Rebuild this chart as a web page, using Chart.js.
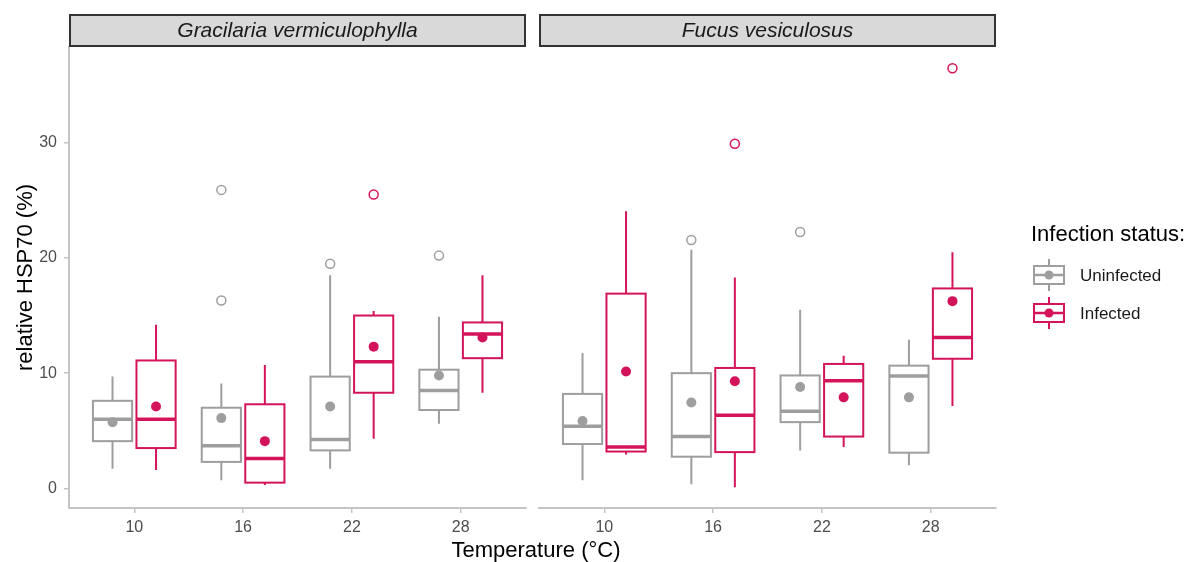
<!DOCTYPE html>
<html>
<head>
<meta charset="utf-8">
<title>HSP70</title>
<script src="https://cdn.jsdelivr.net/npm/chart.js@4.4.1/dist/chart.umd.min.js"></script>
<style>
    body { margin: 0; background: #fff; }
    #wrap { position: relative; width: 1192px; height: 562px; font-family: 'Liberation Sans', Arial, sans-serif; }
    canvas { position: absolute; top: 0; }
    #x-title { position: absolute; left: 0; width: 1072px; top: 537px; line-height: 26px; text-align: center; font-size: 22px; color: #000; }
</style>
</head>
<body>
<div id="wrap">
    <canvas id="panel-gra" width="532" height="562" style="left:0"></canvas>
    <canvas id="panel-fuc" width="659" height="562" style="left:533px"></canvas>
    <div id="x-title">Temperature (°C)</div>
</div>
<script>
const temps = ['10', '16', '22', '28']
const yTicks = [0, 10, 20, 30]

// Gracilaria vermiculophylla, uninfected
const graUnLow = [1.7, 0.7, 1.7, 5.6]
const graUnQ1 = [4.1, 2.3, 3.3, 6.8]
const graUnMedian = [6.0, 3.7, 4.25, 8.5]
const graUnQ3 = [7.6, 7.0, 9.7, 10.3]
const graUnHigh = [9.7, 9.1, 18.5, 14.9]
const graUnMean = [5.75, 6.1, 7.1, 9.8]
const graUnOut = [[], [16.3, 25.9], [19.5], [20.2]]

// Gracilaria vermiculophylla, infected
const graInLow = [1.6, 0.3, 4.3, 8.3]
const graInQ1 = [3.5, 0.5, 8.3, 11.3]
const graInMedian = [6.0, 2.6, 11.0, 13.4]
const graInQ3 = [11.1, 7.3, 15.0, 14.4]
const graInHigh = [14.2, 10.7, 15.4, 18.5]
const graInMean = [7.1, 4.1, 12.3, 13.1]
const graInOut = [[], [], [25.5], []]

// Fucus vesiculosus, uninfected
const fucUnLow = [0.7, 0.35, 3.3, 2.0]
const fucUnQ1 = [3.85, 2.75, 5.75, 3.1]
const fucUnMedian = [5.4, 4.5, 6.7, 9.75]
const fucUnQ3 = [8.2, 10.0, 9.8, 10.65]
const fucUnHigh = [11.75, 20.7, 15.5, 12.9]
const fucUnMean = [5.85, 7.45, 8.8, 7.9]
const fucUnOut = [[], [21.55], [22.25], []]

// Fucus vesiculosus, infected
const fucInLow = [2.95, 0.1, 3.6, 7.15]
const fucInQ1 = [3.2, 3.15, 4.5, 11.25]
const fucInMedian = [3.6, 6.35, 9.35, 13.1]
const fucInQ3 = [16.9, 10.45, 10.8, 17.35]
const fucInHigh = [24.05, 18.3, 11.5, 20.5]
const fucInMean = [10.15, 9.3, 7.9, 16.25]
const fucInOut = [[], [29.9], [], [36.45]]

const GREY = '#9e9e9e'
const RED = '#d4145a'
const AXIS = '#c4c4c4'
const FONT = "'Liberation Sans', Arial, sans-serif"
const DODGE = 0.2
const HALF = 0.18

function statSet(color, shift, low, q1, median, q3, high, mean, out) {
    return { color, shift, low, q1, median, q3, high, mean, out }
}

/****************************************************************************************************/

// boxes, whiskers and medians, drawn under the point datasets
function boxLayer(groups) {
    return {
        id: 'boxes',
        beforeDatasetsDraw(chart) {
            let ctx = chart.ctx
            let x = chart.scales.x
            let y = chart.scales.y
            groups.forEach(g => {
                g.median.forEach((m, i) => {
                    let cx = x.getPixelForValue(i + g.shift)
                    let l = x.getPixelForValue(i + g.shift - HALF)
                    let r = x.getPixelForValue(i + g.shift + HALF)
                    let top = y.getPixelForValue(g.q3[i])
                    let bot = y.getPixelForValue(g.q1[i])
                    ctx.save()
                    ctx.strokeStyle = g.color
                    ctx.lineWidth = 2
                    ctx.beginPath()
                    ctx.moveTo(cx, y.getPixelForValue(g.high[i]))
                    ctx.lineTo(cx, top)
                    ctx.moveTo(cx, bot)
                    ctx.lineTo(cx, y.getPixelForValue(g.low[i]))
                    ctx.stroke()
                    ctx.fillStyle = '#fff'
                    ctx.fillRect(l, top, r - l, bot - top)
                    ctx.strokeRect(l, top, r - l, bot - top)
                    ctx.lineWidth = 3.5
                    ctx.beginPath()
                    ctx.moveTo(l, y.getPixelForValue(m))
                    ctx.lineTo(r, y.getPixelForValue(m))
                    ctx.stroke()
                    ctx.restore()
                })
            })
        }
    }
}

// facet strip above the plotting area
function stripLayer(label) {
    return {
        id: 'strip',
        afterDraw(chart) {
            let ctx = chart.ctx
            let a = chart.chartArea
            ctx.save()
            ctx.fillStyle = '#d9d9d9'
            ctx.fillRect(a.left, 14, a.right - a.left, 33)
            ctx.strokeStyle = '#333'
            ctx.lineWidth = 2
            ctx.strokeRect(a.left + 1, 15, a.right - a.left - 2, 31)
            ctx.fillStyle = '#1a1a1a'
            ctx.font = 'italic 21px ' + FONT
            ctx.textAlign = 'center'
            ctx.textBaseline = 'middle'
            ctx.fillText(label, (a.left + a.right) / 2, 31)
            ctx.restore()
        }
    }
}

function legendKey(ctx, cx, cy, color) {
    ctx.save()
    ctx.strokeStyle = color
    ctx.fillStyle = '#fff'
    ctx.lineWidth = 2
    ctx.beginPath()
    ctx.moveTo(cx, cy - 16)
    ctx.lineTo(cx, cy + 16)
    ctx.stroke()
    ctx.fillRect(cx - 15, cy - 9, 30, 18)
    ctx.strokeRect(cx - 15, cy - 9, 30, 18)
    ctx.lineWidth = 2.5
    ctx.beginPath()
    ctx.moveTo(cx - 15, cy)
    ctx.lineTo(cx + 15, cy)
    ctx.stroke()
    ctx.fillStyle = color
    ctx.beginPath()
    ctx.arc(cx, cy, 4.5, 0, Math.PI * 2)
    ctx.fill()
    ctx.restore()
}

const legendLayer = {
    id: 'statusLegend',
    afterDraw(chart) {
        let ctx = chart.ctx
        let x0 = chart.chartArea.right + 35
        ctx.save()
        ctx.fillStyle = '#000'
        ctx.font = '22px ' + FONT
        ctx.textBaseline = 'middle'
        ctx.fillText('Infection status:', x0, 235)
        legendKey(ctx, x0 + 18, 275, GREY)
        legendKey(ctx, x0 + 18, 313, RED)
        ctx.font = '17px ' + FONT
        ctx.fillStyle = '#1a1a1a'
        ctx.fillText('Uninfected', x0 + 49, 276)
        ctx.fillText('Infected', x0 + 49, 314)
        ctx.restore()
    }
}

/****************************************************************************************************/

function pointSets(groups) {
    let sets = []
    groups.forEach(g => {
        let outPts = []
        g.out.forEach((vals, i) => vals.forEach(v => outPts.push({ x: i + g.shift, y: v })))
        sets.push({
            data: outPts,
            pointRadius: 4.5,
            pointBorderWidth: 1.5,
            pointBackgroundColor: 'rgba(0, 0, 0, 0)',
            pointBorderColor: g.color
        })
        sets.push({
            data: g.mean.map((v, i) => ({ x: i + g.shift, y: v })),
            pointRadius: 5,
            pointBorderWidth: 0,
            pointBackgroundColor: g.color,
            pointBorderColor: g.color
        })
    })
    return sets
}

function Panel(id, label, groups, first) {
    let plugins = [boxLayer(groups), stripLayer(label)]
    if (!first) plugins.push(legendLayer)

    new Chart(document.getElementById(id), {
        type: 'scatter',
        data: { datasets: pointSets(groups) },
        plugins: plugins,
        options: {
            responsive: false,
            animation: false,
            layout: {
                padding: first ? { left: 0, right: 5, top: 47, bottom: 0 } : { left: 5, right: 196, top: 47, bottom: 0 }
            },
            scales: {
                x: {
                    type: 'linear',
                    min: -0.6,
                    max: 3.6,
                    afterBuildTicks: s => { s.ticks = temps.map((t, i) => ({ value: i })) },
                    afterFit: s => { s.height = 54 },
                    ticks: {
                        callback: v => temps[v],
                        color: '#4d4d4d',
                        font: { family: FONT, size: 16 },
                        padding: 5,
                        maxRotation: 0
                    },
                    border: {
                        display: true,
                        color: AXIS,
                        width: 2
                    },
                    grid: {
                        drawOnChartArea: false,
                        drawTicks: true,
                        tickLength: 5,
                        color: AXIS,
                        lineWidth: 1.5
                    }
                },
                y: {
                    display: first,
                    min: -1.7,
                    max: 38.3,
                    afterBuildTicks: s => { s.ticks = yTicks.map(v => ({ value: v })) },
                    afterFit: s => { s.width = first ? 69 : 0 },
                    ticks: {
                        color: '#4d4d4d',
                        font: { family: FONT, size: 16 },
                        padding: 7
                    },
                    title: {
                        display: true,
                        text: 'relative HSP70 (%)',
                        color: '#000',
                        font: { family: FONT, size: 22 },
                        padding: { top: 13, bottom: 0 }
                    },
                    border: {
                        display: true,
                        color: AXIS,
                        width: 2
                    },
                    grid: {
                        drawOnChartArea: false,
                        drawTicks: true,
                        tickLength: 5,
                        color: AXIS,
                        lineWidth: 1.5
                    }
                }
            },
            plugins: {
                legend: { display: false },
                tooltip: { enabled: false }
            }
        }
    })
}

Panel('panel-gra', 'Gracilaria vermiculophylla', [
    statSet(GREY, -DODGE, graUnLow, graUnQ1, graUnMedian, graUnQ3, graUnHigh, graUnMean, graUnOut),
    statSet(RED, DODGE, graInLow, graInQ1, graInMedian, graInQ3, graInHigh, graInMean, graInOut)
], true)

Panel('panel-fuc', 'Fucus vesiculosus', [
    statSet(GREY, -DODGE, fucUnLow, fucUnQ1, fucUnMedian, fucUnQ3, fucUnHigh, fucUnMean, fucUnOut),
    statSet(RED, DODGE, fucInLow, fucInQ1, fucInMedian, fucInQ3, fucInHigh, fucInMean, fucInOut)
], false)
</script>
</body>
</html>
